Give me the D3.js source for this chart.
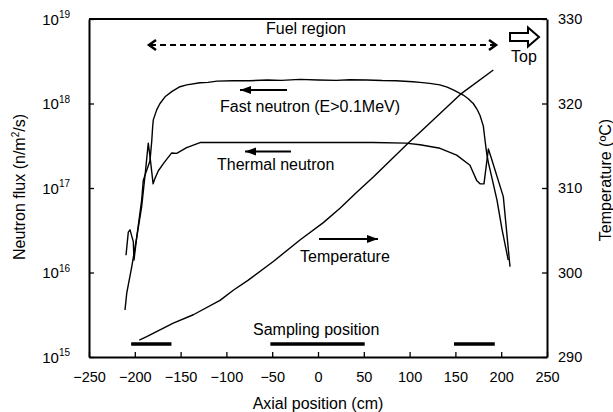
<!DOCTYPE html>
<html><head><meta charset="utf-8">
<script src="https://cdn.jsdelivr.net/npm/d3@7"></script>
<style>
body{margin:0;background:#fff}
text{font-family:Arial,"Liberation Sans",sans-serif;fill:#000}
</style>
</head><body>
<svg id="c" width="613" height="412"></svg>
<script>
// ---- data ----
const xTicks = [-250,-200,-150,-100,-50,0,50,100,150,200,250];
const fluxTicks = [1e15,1e16,1e17,1e18,1e19];
const fluxExp = ["15","16","17","18","19"];
const tempTicks = [290,300,310,320,330];

const fastPos  = [-210.7,-208.8,-203.4,-197.9,-192.5,-190.7,-183.4,-181.5,-180.5,-179.8,-176.1,-172.5,-167,-159.7,-150.7,-143.3,-128.8,-120,-110.3,-92.8,-75,-55,-40,-19.6,0,20,35,53,70,85,103.7,111.4,122,133,141,147.7,158.6,164,169.5,173.5,176.9,180.5,182.3,184.1,186,190,195.4,201,207.7];
const fastFlux = [3.6e15,5.7e15,1.16e16,2.6e16,7.2e16,1.24e17,2.1e17,3.6e17,5.3e17,6.4e17,8.4e17,1.0e18,1.2e18,1.38e18,1.58e18,1.66e18,1.76e18,1.78e18,1.84e18,1.86e18,1.86e18,1.9e18,1.88e18,1.93e18,1.9e18,1.88e18,1.91e18,1.9e18,1.87e18,1.86e18,1.81e18,1.78e18,1.73e18,1.66e18,1.56e18,1.45e18,1.26e18,1.14e18,1.0e18,8.6e17,7.2e17,5.4e17,3.7e17,2.6e17,2.0e17,1.3e17,7.2e16,3.2e16,1.4e16];

const thermPos  = [-209.6,-207.1,-205.2,-201.6,-200.9,-197.9,-192.5,-188.3,-185.3,-183.5,-180,-178,-174.3,-168,-159.7,-154.3,-143.4,-128.8,-100,-60,-20,20,60,96,111.4,133.2,151.4,165.9,173.2,176.9,181.2,186,189,202.3,209.6];
const thermFlux = [1.6e16,3.0e16,3.2e16,2.3e16,1.4e16,2.6e16,6.0e16,1.6e17,3.4e17,2.4e17,1.12e17,1.3e17,1.6e17,2.0e17,2.6e17,2.57e17,3.0e17,3.45e17,3.45e17,3.45e17,3.45e17,3.45e17,3.45e17,3.4e17,3.25e17,2.95e17,2.45e17,1.86e17,1.23e17,1.12e17,1.12e17,2.9e17,2.3e17,7.9e16,1.17e16];

const tempPos = [-195.1,-187,-158,-136.1,-107,-92.5,-76.1,-48.8,-19.7,5.8,24,42.3,60.4,98.3,111.4,156.8,191.4];
const tempVal = [292.0,292.4,294.0,295.0,296.7,297.9,299.1,301.3,303.85,305.9,307.6,309.5,311.3,315.3,316.6,321.2,323.96];

const sampleStart = [-204,-52,148.5];
const sampleEnd   = [-160,51,193];

// ---- layout ----
const L=89, R=547, T=19, B=357;
const svg = d3.select("#c");
const x = d3.scaleLinear().domain([-250,250]).range([L,R]);
const y = d3.scaleLog().domain([1e15,1e19]).range([B,T]);
const yT = d3.scaleLinear().domain([290,330]).range([B,T]);

// frame top
svg.append("line").attr("x1",L).attr("x2",R).attr("y1",T).attr("y2",T)
  .attr("stroke","#000").attr("stroke-width",2);

// bottom axis
const gx = svg.append("g").attr("transform",`translate(0,${B})`)
  .call(d3.axisBottom(x).tickValues(xTicks).tickSizeInner(-5).tickSizeOuter(0).tickPadding(15).tickFormat(d3.format("d")));
gx.selectAll("text").style("font-size","14.5px");

// left axis
const gy = svg.append("g").attr("transform",`translate(${L},0)`)
  .call(d3.axisLeft(y).tickValues(fluxTicks).tickSizeInner(-5).tickSizeOuter(0).tickPadding(19).tickFormat(()=>""));
gy.selectAll(".tick text").each(function(d,i){
  const t = d3.select(this).attr("dy","0.35em").style("font-size","15px");
  t.append("tspan").text("10");
  t.append("tspan").attr("dy","-6.6").style("font-size","10px").text(fluxExp[i]);
});

// right axis
const gr = svg.append("g").attr("transform",`translate(${R},0)`)
  .call(d3.axisRight(yT).tickValues(tempTicks).tickSizeInner(-5).tickSizeOuter(0).tickPadding(11));
gr.selectAll("text").style("font-size","14.5px");

[gx,gy,gr].forEach(g=>{
  g.select(".domain").attr("stroke-width",2);
  g.selectAll(".tick line").attr("stroke-width",1.3);
});

// curves
const lineF = d3.line().x(d=>x(d[0])).y(d=>y(d[1]));
const lineT = d3.line().x(d=>x(d[0])).y(d=>yT(d[1]));
svg.append("path").datum(fastPos.map((p,i)=>[p,fastFlux[i]])).attr("d",lineF)
  .attr("fill","none").attr("stroke","#000").attr("stroke-width",1.4).attr("stroke-linejoin","round");
svg.append("path").datum(thermPos.map((p,i)=>[p,thermFlux[i]])).attr("d",lineF)
  .attr("fill","none").attr("stroke","#000").attr("stroke-width",1.4).attr("stroke-linejoin","round");
svg.append("path").datum(tempPos.map((p,i)=>[p,tempVal[i]])).attr("d",lineT)
  .attr("fill","none").attr("stroke","#000").attr("stroke-width",1.4).attr("stroke-linejoin","round");

// sampling bars
svg.selectAll(".samp").data(sampleStart).join("line")
  .attr("x1",d=>x(d)).attr("x2",(d,i)=>x(sampleEnd[i]))
  .attr("y1",344).attr("y2",344).attr("stroke","#000").attr("stroke-width",3.5);

// fuel region dashed arrow
svg.append("line").attr("x1",150).attr("x2",495).attr("y1",45).attr("y2",45)
  .attr("stroke","#000").attr("stroke-width",2).attr("stroke-dasharray","6,4");
svg.append("path").attr("d","M156,40 L149,45 L156,50").attr("fill","none").attr("stroke","#000").attr("stroke-width",2.5);
svg.append("path").attr("d","M489,40 L496,45 L489,50").attr("fill","none").attr("stroke","#000").attr("stroke-width",2.5);

// hollow "Top" arrow
svg.append("path").attr("d","M510,33 L528,33 L528,27.5 L539,37 L528,46.5 L528,41 L510,41 Z")
  .attr("fill","#fff").attr("stroke","#000").attr("stroke-width",2);

// solid annotation arrows
function arrow(x1,x2,yy,dir){
  svg.append("line").attr("x1",x1).attr("x2",x2).attr("y1",yy).attr("y2",yy).attr("stroke","#000").attr("stroke-width",2);
  const tip = dir<0 ? x1 : x2, b = tip - dir*11;
  svg.append("path").attr("d",`M${tip},${yy} L${b},${yy-4} L${b},${yy+4} Z`).attr("fill","#000");
}
arrow(240,287,90,-1);
arrow(245,291,151.5,-1);
arrow(319,378,239,1);

// texts
function txt(s,xx,yy,anchor,size){
  return svg.append("text").attr("x",xx).attr("y",yy).attr("text-anchor",anchor||"start").style("font-size",(size||16)+"px").text(s);
}
txt("Fuel region",306,34,"middle");
txt("Top",524,62,"middle");
txt("Fast neutron (E>0.1MeV)",220,111.5);
txt("Thermal neutron",217,170);
txt("Temperature",300,261.5);
txt("Sampling position",253,335);
txt("Axial position (cm)",318,409,"middle");

svg.append("text").attr("transform","translate(25,187) rotate(-90)").attr("text-anchor","middle")
  .style("font-size","16px")
  .call(t=>{t.append("tspan").text("Neutron flux (n/m");
            t.append("tspan").attr("dy",-6).style("font-size","10px").text("2");
            t.append("tspan").attr("dy",6).text("/s)");});
svg.append("text").attr("transform","translate(611,180) rotate(-90)").attr("text-anchor","middle")
  .style("font-size","16px").text("Temperature (ºC)");
</script>
</body></html>
